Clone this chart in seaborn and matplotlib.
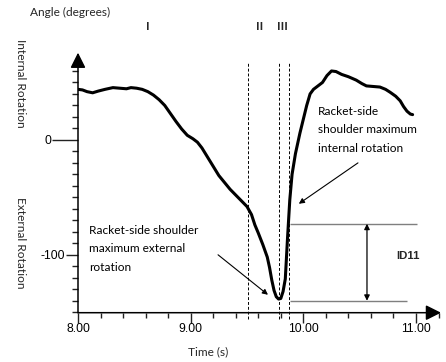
import numpy as np
import pandas as pd
import seaborn as sns
import matplotlib
matplotlib.use("Agg")
import matplotlib.pyplot as plt
from matplotlib.ticker import FixedLocator, MultipleLocator

# Shoulder rotation angle over one stroke
time_s = [8.00, 8.04, 8.08, 8.13, 8.18, 8.24, 8.31, 8.37, 8.43, 8.47, 8.52, 8.57,
          8.62, 8.67, 8.72, 8.77, 8.82, 8.87, 8.92, 8.97, 9.02, 9.06, 9.10, 9.15,
          9.20, 9.25, 9.30, 9.35, 9.40, 9.45, 9.50, 9.54, 9.57, 9.60, 9.64, 9.68,
          9.70, 9.72, 9.74, 9.76, 9.78, 9.80, 9.82, 9.84, 9.86, 9.88, 9.90, 9.93,
          9.97, 10.00, 10.03, 10.06, 10.09, 10.13, 10.17, 10.21, 10.25, 10.29, 10.34,
          10.40, 10.47, 10.52, 10.56, 10.62, 10.68, 10.73, 10.77, 10.82, 10.86, 10.89,
          10.92, 10.95, 10.97]
angle_deg = [44, 43.5, 42, 41, 42.5, 44, 45.5, 45, 44.5, 45.5, 45, 44,
             42, 39, 35, 30, 23, 16, 9.5, 4, 1, -2, -7, -15,
             -23, -31, -37, -43, -48, -53, -58, -65, -74, -81, -91, -102,
             -111, -122, -131, -136.5, -138.5, -138, -132, -121, -85, -52, -30, -12,
             6, 18, 30, 40, 44, 47, 50, 56, 60, 59.5, 57,
             55, 52, 49, 47, 46.5, 46, 44, 41.5, 38, 34, 29,
             25, 22.5, 22]

# Phase boundaries (s) and their labels
phase_bounds = [9.51, 9.78, 9.87]
phase_labels = ["I", "II", "III"]

# Levels of maximum internal / external rotation used for ID11
ir_level = -73
er_level = -140

x_ticks = [8, 9, 10, 11]
x_tick_labels = ["8.00", "9.00", "10.00", "11.00"]
y_ticks = [-100, 0]
y_tick_labels = ["-100", "0"]

W, H = 446, 362


def fx(px):
    return px / W


def fy(py):
    return 1 - py / H


sns.set_theme(style="white")
plt.rcParams["font.family"] = ["Lato", "DejaVu Sans"]

fig = plt.figure(figsize=(W / 100, H / 100), dpi=100)
ax = fig.add_axes([fx(78), 49.3 / H, 363 / W, 260 / H])

df = pd.DataFrame({"time": time_s, "angle": angle_deg})
sns.lineplot(data=df, x="time", y="angle", ax=ax, color="black", lw=2.2,
             sort=False, estimator=None)

ax.set_xlim(8.0, 11.222)
ax.set_ylim(-150.4, 75.9)
ax.set_xlabel("")
ax.set_ylabel("")
for s in ax.spines.values():
    s.set_visible(False)

axis_col = "#222222"
# Axis lines with arrow heads
arrow_kw = dict(arrowstyle="-|>,head_length=0.4,head_width=0.2", lw=1.1,
                color="black", mutation_scale=23, shrinkA=0, shrinkB=0)
ax.annotate("", xy=(1, 0), xytext=(0, 0), xycoords="axes fraction",
            textcoords="axes fraction", arrowprops=arrow_kw, annotation_clip=False)
ax.annotate("", xy=(0, 1), xytext=(0, 0), xycoords="axes fraction",
            textcoords="axes fraction", arrowprops=arrow_kw, annotation_clip=False)

# Ticks
ax.xaxis.set_major_locator(FixedLocator(x_ticks))
ax.xaxis.set_minor_locator(MultipleLocator(0.2))
ax.set_xticklabels(x_tick_labels)
ax.yaxis.set_major_locator(FixedLocator(y_ticks))
ax.yaxis.set_minor_locator(FixedLocator(np.arange(-150, 61, 10)))
ax.set_yticklabels(y_tick_labels)
ax.tick_params(axis="x", which="major", bottom=True, direction="out", length=7.2,
               width=1.0, pad=0.5, labelsize=8.7, labelfontfamily="Liberation Sans",
               color=axis_col, labelcolor="black")
ax.tick_params(axis="x", which="minor", bottom=True, direction="out", length=3.6,
               width=1.0, color=axis_col)
ax.tick_params(axis="y", which="major", left=True, direction="out", length=8.6,
               width=1.0, pad=0.8, labelsize=8.7, labelfontfamily="Liberation Sans",
               color=axis_col, labelcolor="black")
ax.tick_params(axis="y", which="minor", left=True, direction="out", length=4.3,
               width=1.0, color=axis_col)
# The zero tick reaches further out
for loc, t in zip(ax.yaxis.get_majorticklocs(), ax.yaxis.get_major_ticks()):
    if loc == 0:
        t.set_pad(0.8 + 10.1)
        t.tick1line.set_markersize(18.7)

# Phase boundaries
ax.vlines(phase_bounds, -156, 67, colors="black", lw=0.7,
          linestyles=(0, (3, 2)), clip_on=False)

# ID11 bracket
ax.hlines(ir_level, 9.88, 11.01, colors="#7f7f7f", lw=1.0, clip_on=False)
ax.hlines(er_level, 9.88, 10.92, colors="#7f7f7f", lw=1.0, clip_on=False)
ax.annotate("", xy=(10.565, er_level), xytext=(10.565, ir_level),
            arrowprops=dict(arrowstyle="<|-|>", lw=0.9, color="black",
                            mutation_scale=8, shrinkA=0, shrinkB=0))
ax.text(10.929, -100.9, "ID11", ha="center", va="center", fontsize=8.2,
        fontweight="bold", family="Liberation Sans")

# Annotations
ann_kw = dict(fontsize=8.6, color="black", ha="left", va="center")
for y, line in zip([24.3, 8.7, -7.8],
                   ["Racket-side", "shoulder maximum", "internal rotation"]):
    ax.text(10.13, y, line, **ann_kw)
for y, line in zip([-79.1, -94.8, -111.3],
                   ["Racket-side shoulder", "maximum external", "rotation"]):
    ax.text(8.098, y, line, **ann_kw)

pointer = dict(arrowstyle="-|>", lw=0.8, color="black", mutation_scale=8,
               shrinkA=0, shrinkB=0)
ax.annotate("", xy=(9.96, -55.6), xytext=(10.485, -20), arrowprops=pointer)
ax.annotate("", xy=(9.686, -134.8), xytext=(9.243, -100), arrowprops=pointer)

# Figure-level labels
fig.text(fx(30), fy(12.5), "Angle (degrees)", ha="left", va="center", fontsize=8.6)
fig.text(fx(20.5), fy(83), "Internal Rotation", ha="center", va="center",
         rotation=270, fontsize=8.6)
fig.text(fx(20.5), fy(243), "External Rotation", ha="center", va="center",
         rotation=270, fontsize=8.6)
fig.text(fx(208), fy(352), "Time (s)", ha="center", va="center", fontsize=8.6)
for px, lab in zip([148, 260, 282], phase_labels):
    fig.text(fx(px), fy(26), lab, ha="center", va="center", fontsize=8.7,
             fontweight="bold")

fig.savefig("out.png", dpi=100, facecolor="white")
